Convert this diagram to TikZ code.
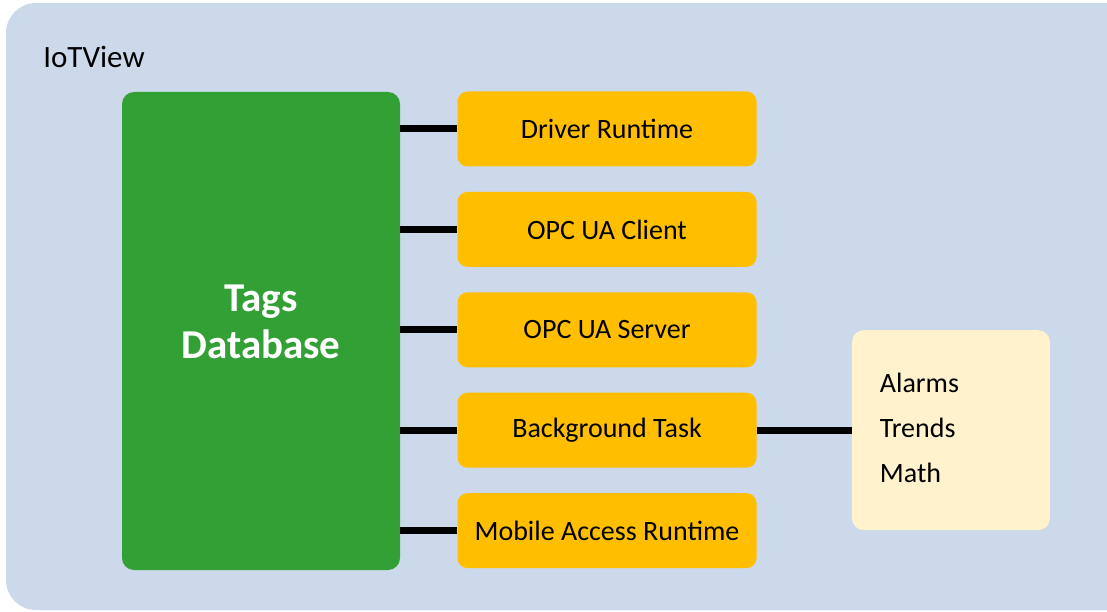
\documentclass[tikz,border=0pt]{standalone}
\usepackage{fontspec}
\setmainfont{Carlito}
\usetikzlibrary{positioning}

\definecolor{panelblue}{HTML}{CCD9EA}
\definecolor{dbgreen}{HTML}{33A035}
\definecolor{modorange}{HTML}{FFBF00}
\definecolor{notecream}{HTML}{FFF2CC}

\tikzset{
  module/.style={fill=modorange, rounded corners=10pt, minimum width=299pt,
    minimum height=75pt, font=\fontsize{28}{32}\selectfont},
  link/.style={line width=7pt}
}

\begin{document}
\begin{tikzpicture}[x=1pt,y=-1pt,node distance=25pt]
\useasboundingbox (0,0) rectangle (1107,612);
\fill[white] (0,0) rectangle (1107,612);
\fill[panelblue, rounded corners=30pt] (6,3) rectangle (1140,610);
\node (title) at (94,57) {\fontsize{31}{36}\selectfont IoTView};
\node (db) [fill=dbgreen, rounded corners=12pt, minimum width=278pt,
  minimum height=478pt, text=white, align=center, text depth=18pt,
  font=\fontsize{41}{47}\selectfont\bfseries] at (261,331) {Tags\\Database};
\node (drv) [module] at (607,129) {Driver Runtime};
\node (cli) [module, below=of drv] {OPC UA Client};
\node (srv) [module, below=of cli] {OPC UA Server};
\node (bg) [module, below=of srv] {Background Task};
\node (mob) [module, below=of bg] {Mobile Access Runtime};
\node (ext) [fill=notecream, rounded corners=12pt, right=95pt of bg,
  minimum height=200pt, text width=142pt, inner xsep=28pt, align=left,
  text depth=94pt, font=\fontsize{28}{45}\selectfont] {Alarms\\Trends\\Math};
\draw[link] (drv.west -| db.east) -- (drv.west);
\draw[link] (cli.west -| db.east) -- (cli.west);
\draw[link] (srv.west -| db.east) -- (srv.west);
\draw[link] (bg.west -| db.east) -- (bg.west);
\draw[link] (mob.west -| db.east) -- (mob.west);
\draw[link] (bg.east) -- (ext.west);
\end{tikzpicture}
\end{document}
